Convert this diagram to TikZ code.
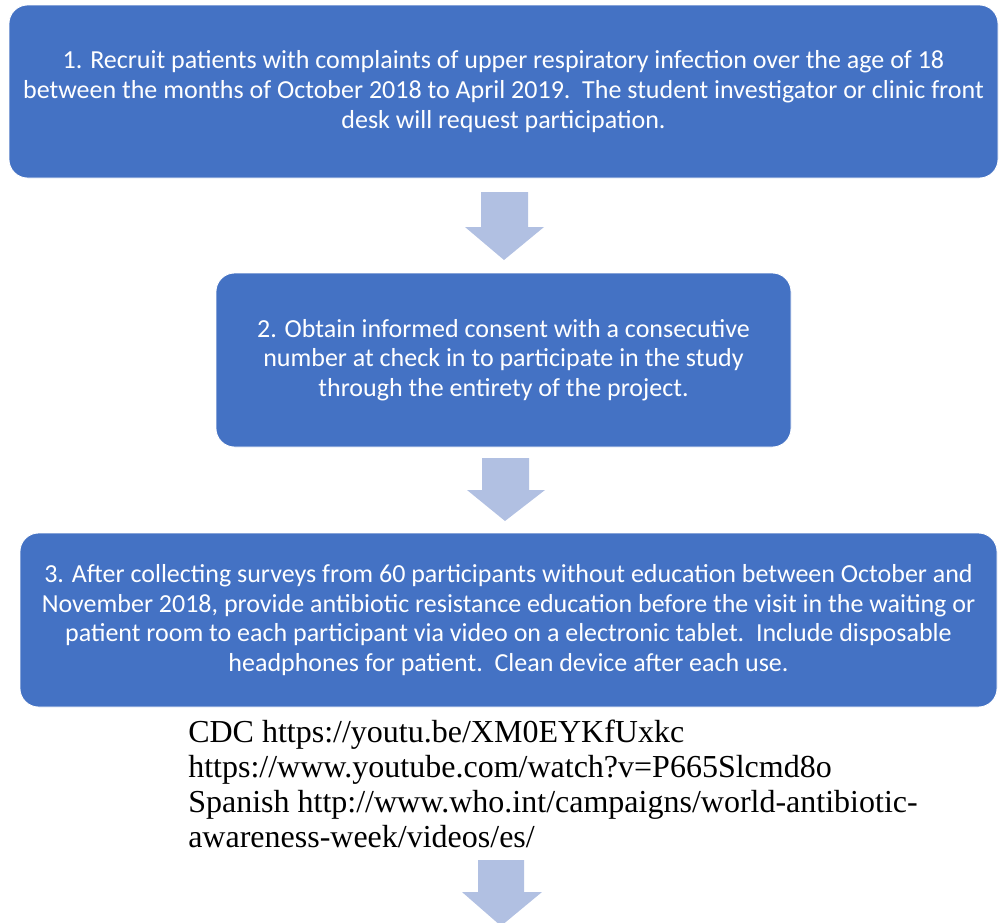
\documentclass[tikz,border=0pt]{standalone}
\usepackage{fontspec}
\setmainfont{Liberation Serif}
\newfontfamily\boxfont{Carlito}
\definecolor{boxblue}{HTML}{4472C4}
\definecolor{arrowblue}{HTML}{B1C0E2}
\begin{document}
\begin{tikzpicture}[x=0.75pt,y=-0.75pt,
  stepbox/.style={fill=boxblue, draw=white, line width=0.6pt, rounded corners=14pt,
    text=white, align=center, inner sep=0pt,
    font={\boxfont\fontsize{19.5}{22.3}\selectfont}},
  blockarrow/.style={fill=arrowblue, draw=none}]
\useasboundingbox (0,0) rectangle (999,922);
\node[stepbox, minimum width=741.75pt, minimum height=129.75pt] (b1) at (503.5,91.5)
  {1. Recruit patients with complaints of upper respiratory infection over the age of 18\\
   between the months of October 2018 to April 2019.\ \ The student investigator or clinic front\\
   desk will request participation.};
\node[stepbox, minimum width=431.25pt, minimum height=130.5pt] (b2) at (503.5,360)
  {2. Obtain informed consent with a consecutive\\
   number at check in to participate in the study\\
   through the entirety of the project.};
\node[stepbox, minimum width=732.75pt, minimum height=130.5pt] (b3) at (508.5,620)
  {3. After collecting surveys from 60 participants without education between October and\\
   November 2018, provide antibiotic resistance education before the visit in the waiting or\\
   patient room to each participant via video on a electronic tablet.\ \ Include disposable\\
   headphones for patient.\ \ Clean device after each use.};
\node[anchor=north west, inner sep=0pt, align=left,
  font={\fontsize{24}{26.25}\selectfont}] (links) at (188,720)
  {CDC https://youtu.be/XM0EYKfUxkc\\
   https://www.youtube.com/watch?v=P665Slcmd8o\\
   Spanish http://www.who.int/campaigns/world-antibiotic-\\
   awareness-week/videos/es/};
% block arrows
\fill[blockarrow] (481,192) -- (528,192) -- (528,227) -- (544,227) -- (504,260)
  -- (465,227) -- (481,227) -- cycle;
\fill[blockarrow] (482,458) -- (529,458) -- (529,490) -- (545,490) -- (505,521)
  -- (467,490) -- (482,490) -- cycle;
\fill[blockarrow] (478,860) -- (524,860) -- (524,892) -- (542,892) -- (501,926)
  -- (462,892) -- (478,892) -- cycle;
\end{tikzpicture}
\end{document}
